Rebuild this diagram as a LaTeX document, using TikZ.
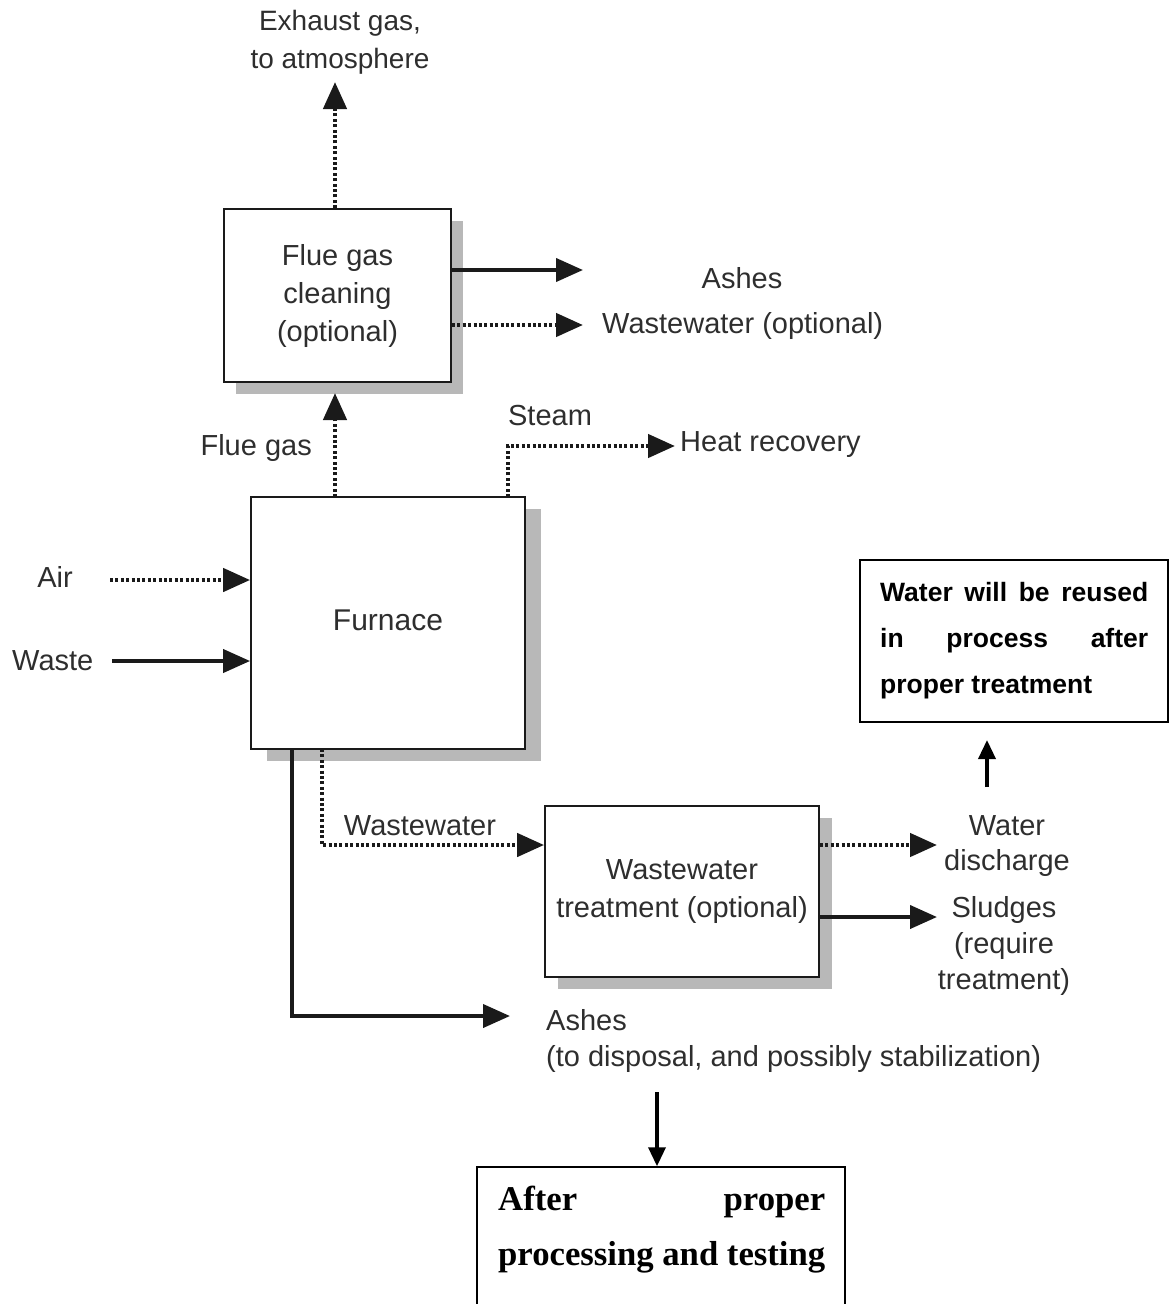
\documentclass[tikz,border=0pt]{standalone}
\usepackage{fontspec}
\setmainfont{Liberation Sans}
\newfontfamily\serifb{Liberation Serif}
\usetikzlibrary{arrows.meta,shadows}
\definecolor{txt}{HTML}{2E2E2E}
\definecolor{ln}{HTML}{1A1A1A}
\definecolor{shd}{HTML}{B8B8B8}
\begin{document}
\begin{tikzpicture}[x=1pt,y=-1pt,
  lbl/.style={text=txt,font=\fontsize{29}{36}\selectfont,inner sep=0pt,align=center},
  procbox/.style={draw=ln,line width=1.8pt,fill=white,text=txt,font=\fontsize{29}{38}\selectfont,align=center,inner sep=0pt,
     drop shadow={shadow xshift=#1pt,shadow yshift=-12pt,fill=shd,opacity=1}},
  procbox/.default=13,
  solidarrow/.style={draw=ln,line width=4pt,-{Triangle[length=27pt,width=23pt]}},
  dotarrow/.style={draw=ln,line width=4.5pt,dash pattern=on 3pt off 2.4pt,-{Triangle[length=27pt,width=23pt]}},
  smallarrow/.style={draw=black,line width=3.5pt,-{Triangle[length=19pt,width=17pt]}},
  notebox/.style={draw=black,line width=1.5pt,fill=white,inner sep=0pt}
]
\useasboundingbox (0,0) rectangle (1169,1304);

% process boxes
\node[procbox=12, minimum width=227pt, minimum height=173pt] (fgc) at (337.5,295.5) {Flue gas\\cleaning\\(optional)};
\node[procbox=16, minimum width=274pt, minimum height=252pt, font=\fontsize{30}{38}\selectfont] (furn) at (388,623) {\raisebox{5pt}{Furnace}};
\node[procbox=13, minimum width=274pt, minimum height=171pt] (wwt) at (682,891.5) {Wastewater\\treatment (optional)};

% note boxes
\node[notebox, minimum width=308pt, minimum height=162pt] (reuse) at (1014,641) {};
\node[anchor=north west, inner sep=0pt, align=left, font=\bfseries\fontsize{26.5}{46}\selectfont] (reusetext) at (880,582)
  {\makebox[268pt][s]{Water will be reused}\\\makebox[268pt][s]{in process after}\\proper treatment};
\node[notebox, minimum width=368pt, minimum height=150pt] (after) at (661,1242) {};
\node[anchor=north west, inner sep=0pt, align=left, font=\serifb\bfseries\fontsize{34.7}{55}\selectfont] (aftertext) at (498,1186)
  {\makebox[327pt][s]{After proper}\\processing and testing};

% labels
\node[lbl, font=\fontsize{28}{38}\selectfont] (exh) at (340,42) {Exhaust gas,\\to atmosphere};
\node[lbl] (ashes1) at (742,278) {Ashes};
\node[lbl, anchor=west] (ww1) at (602,326) {Wastewater (optional)};
\node[lbl, anchor=east] (flue) at (312,448) {Flue gas};
\node[lbl] (steam) at (550,416) {Steam};
\node[lbl, anchor=west] (heat) at (680,445) {Heat recovery};
\node[lbl] (air) at (55,577) {Air};
\node[lbl, anchor=west] (waste) at (12,661) {Waste};
\node[lbl] (ww2) at (420,826) {Wastewater};
\node[lbl, font=\fontsize{29}{35}\selectfont] (water) at (1007,846) {Water\\discharge};
\node[lbl] (sludge) at (1004,946) {Sludges\\(require\\treatment)};
\node[lbl, anchor=west, align=left] (ashes2) at (546,1041) {Ashes\\(to disposal, and possibly stabilization)};

% coordinates for free ends
\coordinate (exhtip) at (335,82);
\coordinate (fgfrom) at (335,497);
\coordinate (fgtip) at (335,393);
\coordinate (ash1y) at (0,270);
\coordinate (ash1tip) at (583,270);
\coordinate (ww1y) at (0,325);
\coordinate (ww1tip) at (583,325);
\coordinate (stfrom) at (508,497);
\coordinate (stbend) at (508,446);
\coordinate (sttip) at (675,446);
\coordinate (airfrom) at (110,580);
\coordinate (wastefrom) at (112,661);
\coordinate (ashfrom) at (292,749);
\coordinate (ashbend) at (292,1016);
\coordinate (ashtip) at (510,1016);
\coordinate (wwfrom) at (322,749);
\coordinate (wwbend) at (322,845);
\coordinate (wdy) at (0,845);
\coordinate (wdtip) at (937,845);
\coordinate (sly) at (0,917);
\coordinate (sltip) at (937,917);
\coordinate (upfrom) at (987,787);
\coordinate (uptip) at (987,740);
\coordinate (downfrom) at (657,1092);

% connectors
\draw[dotarrow] (fgc.north -| exhtip) -- (exhtip);
\draw[dotarrow] (fgfrom) -- (fgtip);
\draw[solidarrow] (fgc.east |- ash1y) -- (ash1tip);
\draw[dotarrow] (fgc.east |- ww1y) -- (ww1tip);
\draw[dotarrow] (stfrom) -- (stbend) -- (sttip);
\draw[dotarrow] (airfrom) -- (airfrom -| furn.west);
\draw[solidarrow] (wastefrom) -- (wastefrom -| furn.west);
\draw[solidarrow] (ashfrom) -- (ashbend) -- (ashtip);
\draw[dotarrow] (wwfrom) -- (wwbend) -- (wwbend -| wwt.west);
\draw[dotarrow] (wwt.east |- wdy) -- (wdtip);
\draw[solidarrow] (wwt.east |- sly) -- (sltip);
\draw[smallarrow] (upfrom) -- (uptip);
\draw[smallarrow] (downfrom) -- (downfrom |- after.north);
\end{tikzpicture}
\end{document}
